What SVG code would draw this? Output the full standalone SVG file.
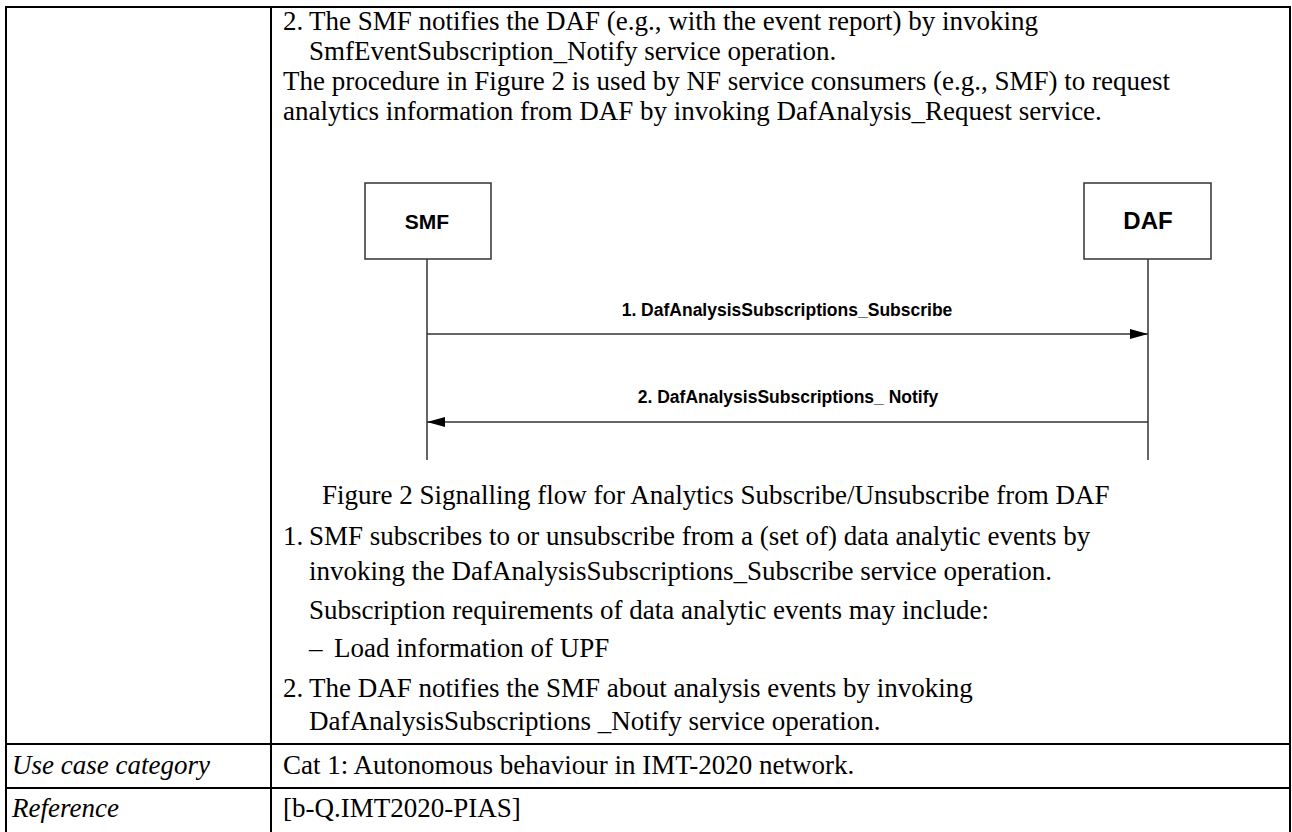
<svg xmlns="http://www.w3.org/2000/svg" width="1292" height="832" viewBox="0 0 1292 832">
<style>
.t{font-family:"Liberation Serif","Times New Roman",serif;font-size:27px;fill:#000}
.it{font-style:italic}
.bd{stroke:#000;stroke-width:2;fill:none}
.box{fill:#fff;stroke:#333;stroke-width:1.5}
.ll{stroke:#333;stroke-width:1.5}
.lab{font-family:"Liberation Sans",Arial,sans-serif;font-weight:bold;fill:#000}
</style>
<defs>
<marker id="ah" markerWidth="18" markerHeight="10" refX="18" refY="5" orient="auto" markerUnits="userSpaceOnUse">
<path d="M0,0 L18,5 L0,10 Z" fill="#000"/>
</marker>
</defs>
<g id="table">
<line class="bd" x1="5" y1="7" x2="1291" y2="7"/>
<line class="bd" x1="6" y1="7" x2="6" y2="832"/>
<line class="bd" x1="1290" y1="7" x2="1290" y2="832"/>
<line class="bd" x1="271" y1="7" x2="271" y2="832"/>
<line class="bd" x1="5" y1="744" x2="1291" y2="744"/>
<line class="bd" x1="5" y1="788" x2="1291" y2="788"/>
</g>
<g id="text">
<text class="t" x="283" y="30">2.</text>
<text class="t" x="309" y="30">The SMF notifies the DAF (e.g., with the event report) by invoking</text>
<text class="t" x="309" y="60">SmfEventSubscription_Notify service operation.</text>
<text class="t" x="283" y="90">The procedure in Figure 2 is used by NF service consumers (e.g., SMF) to request</text>
<text class="t" x="283" y="120">analytics information from DAF by invoking DafAnalysis_Request service.</text>
<text class="t" x="322" y="504">Figure 2 Signalling flow for Analytics Subscribe/Unsubscribe from DAF</text>
<text class="t" x="283" y="545">1.</text>
<text class="t" x="309" y="545">SMF subscribes to or unsubscribe from a (set of) data analytic events by</text>
<text class="t" x="309" y="580">invoking the DafAnalysisSubscriptions_Subscribe service operation.</text>
<text class="t" x="309" y="619">Subscription requirements of data analytic events may include:</text>
<text class="t" x="309" y="657">–</text>
<text class="t" x="334" y="657">Load information of UPF</text>
<text class="t" x="283" y="697">2.</text>
<text class="t" x="309" y="697">The DAF notifies the SMF about analysis events by invoking</text>
<text class="t" x="309" y="730">DafAnalysisSubscriptions _Notify service operation.</text>
<text class="t it" x="12" y="774">Use case category</text>
<text class="t" x="283" y="774">Cat 1: Autonomous behaviour in IMT-2020 network.</text>
<text class="t it" x="12" y="817">Reference</text>
<text class="t" x="283" y="817">[b-Q.IMT2020-PIAS]</text>
</g>
<g id="connectors">
<line class="ll" x1="427" y1="259" x2="427" y2="460"/>
<line class="ll" x1="1148" y1="259" x2="1148" y2="460"/>
<line class="ll" x1="427" y1="334" x2="1148" y2="334" marker-end="url(#ah)"/>
<line class="ll" x1="1148" y1="422" x2="427" y2="422" marker-end="url(#ah)"/>
<text class="lab" x="787" y="316" font-size="17.5" text-anchor="middle">1. DafAnalysisSubscriptions_Subscribe</text>
<text class="lab" x="788" y="403" font-size="17.5" text-anchor="middle">2. DafAnalysisSubscriptions_ Notify</text>
</g>
<g id="smf">
<rect class="box" x="365" y="183" width="126" height="76"/>
<text class="lab" x="427" y="229" font-size="21" text-anchor="middle">SMF</text>
</g>
<g id="daf">
<rect class="box" x="1084" y="183" width="127" height="76"/>
<text class="lab" x="1148" y="229" font-size="24" text-anchor="middle">DAF</text>
</g>
</svg>
